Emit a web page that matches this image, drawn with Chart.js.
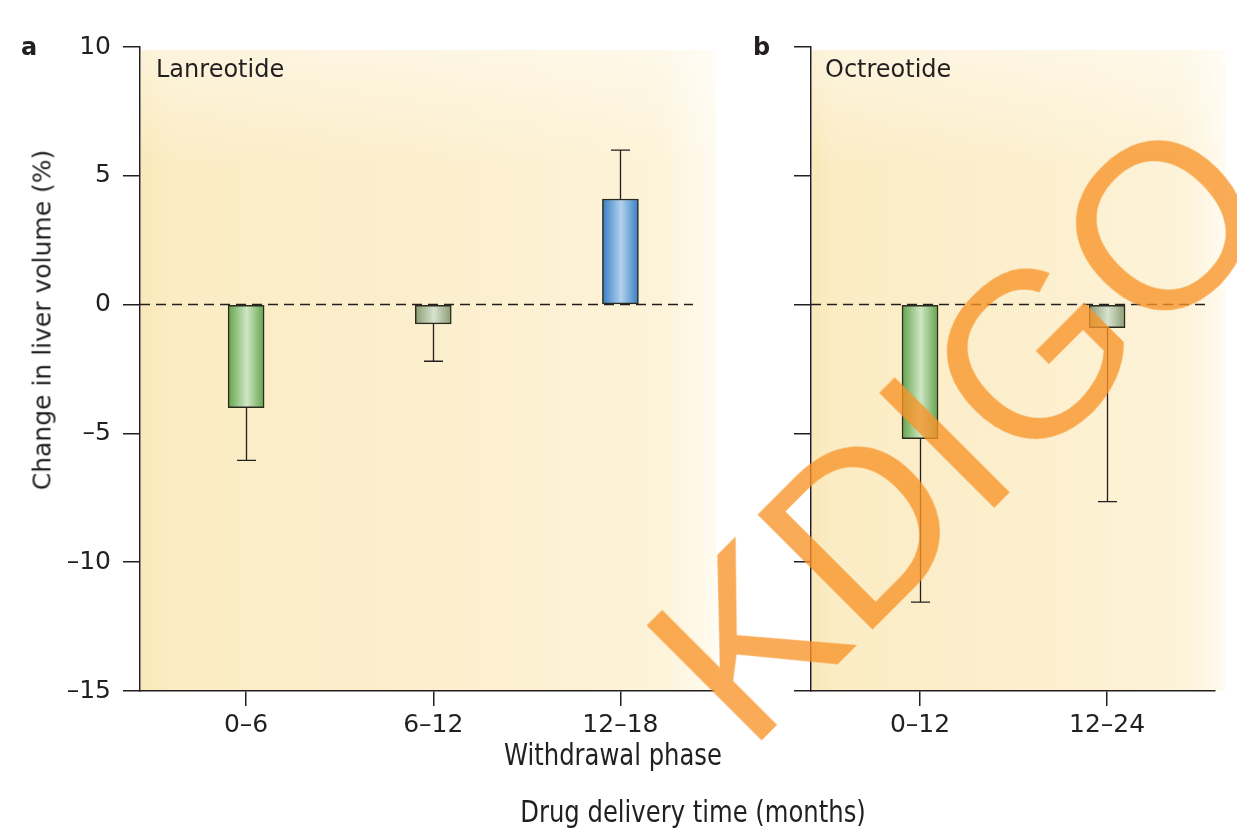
<!DOCTYPE html>
<html><head><meta charset="utf-8">
<script src="https://cdn.jsdelivr.net/npm/chart.js@4"></script>
<style>
html,body{margin:0;padding:0;background:#fff;}
body{width:1237px;height:830px;overflow:hidden;position:relative;font-family:'DejaVu Sans',sans-serif;color:#231f20;}
canvas{position:absolute;left:0;top:0;}
.t{position:absolute;white-space:nowrap;line-height:1;}
.narrow{font-family:'DejaVu Sans Condensed','DejaVu Sans',sans-serif;font-size:27px;transform:translateX(-50%) scaleY(1.1);}
#wm{position:absolute;left:748px;top:754px;font-family:'Liberation Sans',Arial,sans-serif;font-size:235px;line-height:1;color:rgba(247,147,40,0.78);transform-origin:0 0;transform:rotate(-45deg) translateY(-199px);white-space:nowrap;pointer-events:none;}
</style></head><body>
<canvas id="cA" width="1237" height="830"></canvas>
<canvas id="cB" width="1237" height="830"></canvas>
<div class="t" style="left:21px;top:35px;font-size:24px;font-weight:bold;">a</div>
<div class="t" style="left:753px;top:35px;font-size:24px;font-weight:bold;">b</div>
<div class="t" style="left:156px;top:57px;font-size:24px;">Lanreotide</div>
<div class="t" style="left:825px;top:57px;font-size:24px;">Octreotide</div>
<div class="t" style="left:42px;top:320px;font-size:25px;transform:translate(-50%,-50%) rotate(-90deg);">Change in liver volume (%)</div>
<div class="t narrow" style="left:613px;top:741px;">Withdrawal phase</div>
<div class="t narrow" style="left:693px;top:798px;">Drug delivery time (months)</div>
<div id="wm">KDIGO</div>
<script>
// ---- data ----
const yTicks = [10, 5, 0, -5, -10, -15];
const lanCategories = ['0–6', '6–12', '12–18'];
const lanValues = [-4.0, -0.75, 4.1];
const lanErrorEnds = [-6.05, -2.2, 6.0];
const octCategories = ['0–12', '12–24'];
const octValues = [-5.2, -0.9];
const octErrorEnds = [-11.55, -7.65];

// ---- styles ----
const lanStyles = ['green', 'grey', 'blue'];
const octStyles = ['green', 'grey'];
const palette = {
  green: {edge: 'rgb(98,164,74)', mid: 'rgb(208,230,198)'},
  grey:  {edge: 'rgb(138,156,114)', mid: 'rgb(216,226,206)'},
  blue:  {edge: 'rgb(56,126,196)', mid: 'rgb(178,210,238)'}
};
const ink = '#231f20';
const tickFont = {family: 'DejaVu Sans', size: 25};

function yLabel(v) { return v < 0 ? '–' + Math.abs(v) : String(v); }

function makeChart(canvasId, cats, vals, errs, styles, cfg) {
  const data = cats.map((c, i) => ({x: i, y: vals[i]}));
  const panelPlugin = {
    id: 'panel' + canvasId,
    beforeDraw(chart) {
      const a = chart.chartArea, ctx = chart.ctx;
      ctx.save();
      const x0 = a.left + 1, x1 = a.right + cfg.bgExtra;
      const g = ctx.createLinearGradient(x0, 0, x1, 0);
      g.addColorStop(0, 'rgb(250,232,184)');
      g.addColorStop(0.05, 'rgb(251,236,196)');
      g.addColorStop(0.5, 'rgb(252,239,205)');
      g.addColorStop(0.9, 'rgb(253,243,216)');
      g.addColorStop(1, 'rgb(255,251,240)');
      ctx.fillStyle = g;
      ctx.fillRect(x0, a.top + 3, x1 - x0, a.bottom - a.top - 3);
      const gv = ctx.createLinearGradient(0, a.top, 0, a.top + 120);
      gv.addColorStop(0, 'rgba(255,255,255,0.45)');
      gv.addColorStop(1, 'rgba(255,255,255,0)');
      ctx.fillStyle = gv;
      ctx.fillRect(x0, a.top + 3, x1 - x0, 120);
      ctx.restore();
    },
    beforeDatasetsDraw(chart) {
      const a = chart.chartArea, ctx = chart.ctx;
      const y0 = chart.scales.y.getPixelForValue(0);
      ctx.save();
      ctx.strokeStyle = ink;
      ctx.lineWidth = 1.5;
      ctx.setLineDash([10, 6]);
      ctx.beginPath();
      ctx.moveTo(a.left, y0);
      ctx.lineTo(cfg.dashEnd, y0);
      ctx.stroke();
      ctx.restore();
    },
    afterDatasetsDraw(chart) {
      const ctx = chart.ctx, xs = chart.scales.x, ys = chart.scales.y;
      ctx.save();
      ctx.strokeStyle = ink;
      ctx.lineWidth = 1.3;
      vals.forEach((v, i) => {
        const cx = Math.round(xs.getPixelForValue(i)) + 0.5;
        const y1 = ys.getPixelForValue(v);
        const y2 = ys.getPixelForValue(errs[i]);
        ctx.beginPath();
        ctx.moveTo(cx, y1);
        ctx.lineTo(cx, y2);
        ctx.moveTo(cx - 9.5, y2);
        ctx.lineTo(cx + 9.5, y2);
        ctx.stroke();
      });
      ctx.restore();
    }
  };
  return new Chart(document.getElementById(canvasId), {
    type: 'bar',
    data: {
      datasets: [{
        data: data,
        barThickness: 36,
        borderWidth: 1.5,
        borderColor: '#2a2a1e',
        borderSkipped: false,
        backgroundColor: (ctx) => {
          const p = palette[styles[ctx.dataIndex]] || palette.green;
          const ch = ctx.chart;
          if (!ch.chartArea || !ch.scales.x) return p.edge;
          const cx = ch.scales.x.getPixelForValue(ctx.dataIndex);
          const g = ch.ctx.createLinearGradient(cx - 18, 0, cx + 18, 0);
          g.addColorStop(0, p.edge);
          g.addColorStop(0.52, p.mid);
          g.addColorStop(1, p.edge);
          return g;
        }
      }]
    },
    options: {
      responsive: false,
      animation: false,
      devicePixelRatio: 1,
      layout: {padding: {left: 0, top: 47, right: 1237 - cfg.right, bottom: 830 - 691 - 60}},
      plugins: {legend: {display: false}, tooltip: {enabled: false}},
      scales: {
        x: {
          type: 'linear',
          offset: false,
          min: cfg.xMin, max: cfg.xMax,
          afterBuildTicks(s) { s.ticks = cats.map((c, i) => ({value: i})); },
          afterFit(s) { s.height = 60; },
          ticks: {font: tickFont, color: ink, padding: 4, maxRotation: 0, autoSkip: false,
                  callback: (v) => cats[v] !== undefined ? cats[v] : ''},
          grid: {offset: false, drawOnChartArea: false, drawTicks: true, tickLength: 15, color: ink, lineWidth: 1.5},
          border: {display: true, color: ink, width: 1.5}
        },
        y: {
          type: 'linear',
          min: -15, max: 10,
          afterBuildTicks(s) { s.ticks = [...yTicks].sort((a, b) => a - b).map(v => ({value: v})); },
          afterFit(s) { s.width = cfg.left; },
          ticks: {display: cfg.showY, font: tickFont, color: ink, padding: 12, callback: yLabel},
          grid: {drawOnChartArea: false, drawTicks: true, tickLength: 17, color: ink, lineWidth: 1.5},
          border: {display: true, color: ink, width: 1.5}
        }
      }
    },
    plugins: [panelPlugin]
  });
}

makeChart('cA', lanCategories, lanValues, lanErrorEnds, lanStyles,
  {left: 140, right: 714, xMin: -0.567, xMax: 2.5, showY: true, dashEnd: 693, bgExtra: 2});
makeChart('cB', octCategories, octValues, octErrorEnds, octStyles,
  {left: 811, right: 1215, xMin: -0.583, xMax: 1.577, showY: false, dashEnd: 1210, bgExtra: 10});
</script>
</body></html>
